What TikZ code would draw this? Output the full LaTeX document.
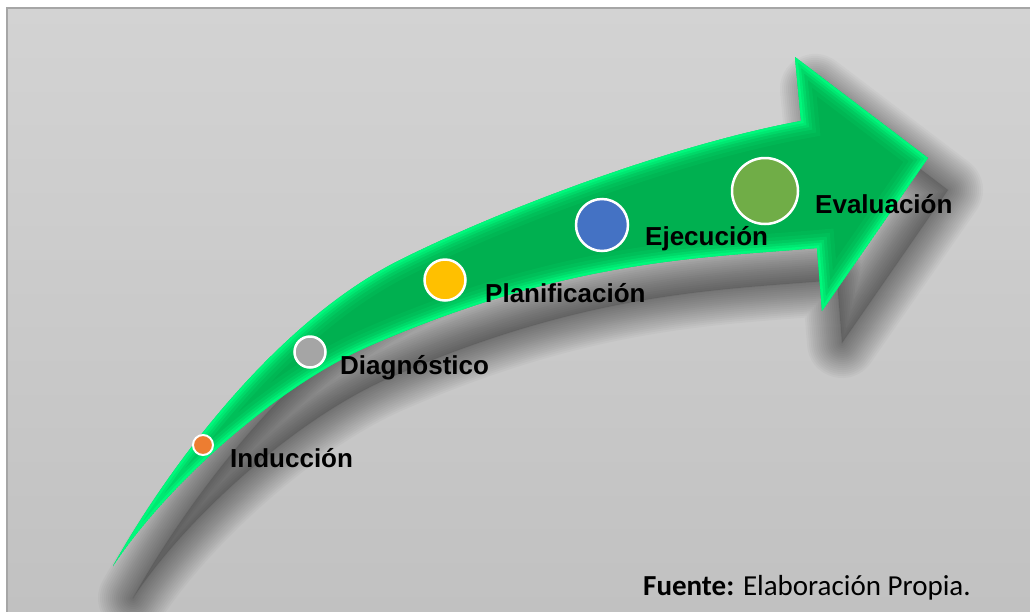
\documentclass[tikz,border=0pt]{standalone}
\usepackage{fontspec}
\setmainfont{Liberation Sans}
\newfontfamily\footfont{Carlito}
\definecolor{bgtop}{HTML}{D3D3D3}
\definecolor{bgbot}{HTML}{C1C1C1}
\definecolor{framegray}{HTML}{A6A6A6}
\definecolor{brightgreen}{HTML}{00FF80}
\definecolor{darkgreen}{HTML}{00B050}
\definecolor{corange}{HTML}{ED7D31}
\definecolor{cgray}{HTML}{A5A5A5}
\definecolor{cyellow}{HTML}{FFC000}
\definecolor{cblue}{HTML}{4472C4}
\definecolor{cgreen}{HTML}{70AD47}
\def\arrowpath{(113,566) .. controls (173,459) and (280,320) .. (400,260)
  .. controls (500,210) and (671,145) .. (801,121)
  -- (795,57) -- (928,158) -- (822,311) -- (817,248)
  .. controls (700,258) and (567,259) .. (367,347)
  .. controls (277,387) and (168,483) .. (113,566) -- cycle}
\tikzset{
  stage/.style={circle, draw=white, line width=2.5pt, inner sep=0pt, minimum size=#1},
  lbl/.style={anchor=base west, inner sep=0pt, font=\bfseries\fontsize{26}{30}\selectfont},
}
\begin{document}
\begin{tikzpicture}[x=1pt,y=-1pt]
\useasboundingbox (0,0) rectangle (1030,611);
\fill[white] (0,0) rectangle (1030,611);
\shade[top color=bgtop, bottom color=bgbot] (6,7) rectangle (1032,613);
\draw[framegray, line width=1.5pt] (6.75,613) -- (6.75,7.75) -- (1032,7.75);
% soft shadow
\begin{scope}[shift={(20,32)}]
  \foreach \w in {70,66,...,2}{
    \draw[black, line width=\w pt, line join=round, opacity=0.026] \arrowpath;
  }
  \fill[black, opacity=0.14] \arrowpath;
\end{scope}
% arrow body with inner glow
\begin{scope}
  \clip \arrowpath;
  \fill[darkgreen] \arrowpath;
  \foreach \w/\o in {36/0.09,28/0.12,21/0.18,15/0.28,10/0.42,5/0.7}{
    \draw[brightgreen, line width=\w pt, line join=miter, opacity=\o] \arrowpath;
  }
\end{scope}
% stage circles
\node[stage=20pt, fill=corange, line width=2pt] (c1) at (203,445) {};
\node[stage=31pt, fill=cgray] (c2) at (310,352) {};
\node[stage=41pt, fill=cyellow] (c3) at (445,280) {};
\node[stage=52pt, fill=cblue] (c4) at (602,225) {};
\node[stage=66pt, fill=cgreen] (c5) at (765,191) {};
% labels
\node[lbl] (l1) at (230,467) {Inducción};
\node[lbl] (l2) at (340,374) {Diagnóstico};
\node[lbl] (l3) at (485,302) {Planificación};
\node[lbl] (l4) at (645,245) {Ejecución};
\node[lbl] (l5) at (815,213) {Evaluación};
% footer
\node[anchor=base west, inner sep=0pt, font=\footfont\fontsize{29}{34}\selectfont] (src) at (643,595) {\textbf{Fuente:} Elaboración Propia.};
\end{tikzpicture}
\end{document}
